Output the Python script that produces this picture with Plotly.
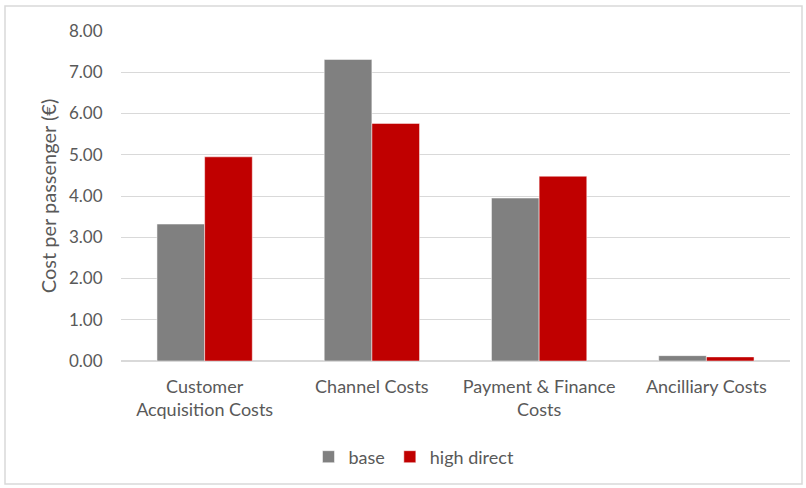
import plotly.graph_objects as go

categories = ["Customer<br>Acquisition Costs", "Channel Costs", "Payment & Finance<br>Costs", "Ancilliary Costs"]
base = [3.32, 7.31, 3.95, 0.13]
high_direct = [4.95, 5.76, 4.48, 0.10]
y_ticks = [0, 1, 2, 3, 4, 5, 6, 7, 8]

W, H = 806, 488
L, R, T, B = 121, 16, 31, 127
pw, ph = W - L - R, H - T - B

def px(x):
    return (x - L) / pw

def py(y):
    return (H - B - y) / ph

font = "Lato, 'Open Sans', sans-serif"
txt = "#595959"

fig = go.Figure()
fig.add_bar(x=categories, y=base, name="base", marker=dict(color="#808080", line=dict(color="#ffffff", width=0.5)))
fig.add_bar(x=categories, y=high_direct, name="high direct", marker=dict(color="#C00000", line=dict(color="#ffffff", width=0.5)))

fig.update_layout(
    width=W, height=H,
    margin=dict(l=L, r=R, t=T, b=B),
    paper_bgcolor="white", plot_bgcolor="white",
    barmode="group", bargap=0.43, bargroupgap=0,
    font=dict(family=font, size=17, color=txt),
    showlegend=True,
    legend=dict(orientation="h", x=px(414), y=py(457), xanchor="center", yanchor="middle",
                font=dict(size=18, color=txt), itemwidth=30, traceorder="normal"),
    xaxis=dict(showgrid=False, showline=True, linecolor="#d9d9d9", linewidth=1,
               tickfont=dict(size=18, color=txt), ticks="outside", ticklen=9, tickcolor="rgba(0,0,0,0)"),
    yaxis=dict(range=[0, 8], tickvals=y_ticks, tickformat=".2f", showgrid=True, gridcolor="#d9d9d9",
               gridwidth=1, zeroline=True, zerolinecolor="#d9d9d9", showline=False,
               tickfont=dict(size=17, color=txt), ticks="outside", ticklen=14, tickcolor="rgba(0,0,0,0)",
               title=dict(text="Cost per passenger (€)", font=dict(size=20, color=txt), standoff=7)),
    shapes=[dict(type="rect", xref="paper", yref="paper",
                 x0=px(5), x1=px(802), y0=py(484), y1=py(6),
                 line=dict(color="#d9d9d9", width=1.5), fillcolor="rgba(0,0,0,0)", layer="below")],
)

fig.write_html("out.html", config={"displayModeBar": False},
               post_script="document.body.style.margin='0';document.body.style.overflow='hidden';")
